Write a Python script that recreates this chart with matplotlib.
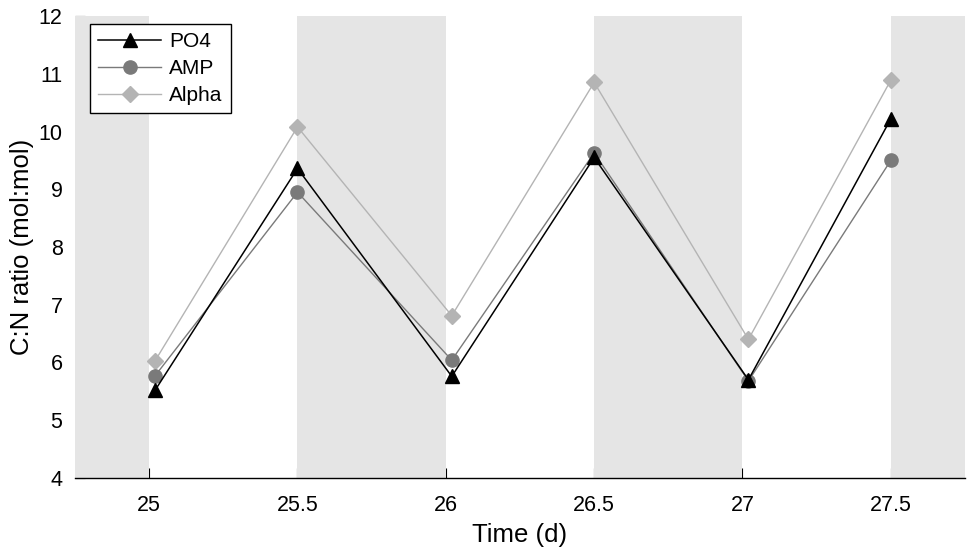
import numpy as np
import matplotlib
matplotlib.use("Agg")
import matplotlib.pyplot as plt

plt.rcParams['font.family'] = ['Liberation Sans', 'DejaVu Sans']

# sampling times (d) and C:N ratios
t = [25.02, 25.5, 26.02, 26.5, 27.02, 27.5]
po4 = [5.52, 9.36, 5.76, 9.55, 5.70, 10.22]
amp = [5.77, 8.95, 6.04, 9.63, 5.68, 9.50]
alpha = [6.03, 10.08, 6.81, 10.85, 6.40, 10.89]

# dark periods (shaded)
dark = [(24.75, 25.0), (25.5, 26.0), (26.5, 27.0), (27.5, 27.75)]
xticks = [25, 25.5, 26, 26.5, 27, 27.5]
xticklabels = ['25', '25.5', '26', '26.5', '27', '27.5']

fig = plt.figure(figsize=(9.74, 5.57), dpi=100)
ax = fig.add_axes([75/974, 79/557, 890/974, 462/557])

for a, b in dark:
    ax.axvspan(a, b, color='#e5e5e5', lw=0, zorder=2.6)

ax.plot(t, po4, color='black', lw=1.1, marker='^', ms=10, mfc='black', mec='black',
        label='PO4', zorder=6)
ax.plot(t, amp, color='#7a7a7a', lw=1.0, marker='o', ms=9.5, mfc='#7a7a7a', mec='#7a7a7a',
        label='AMP', zorder=5)
ax.plot(t, alpha, color='#b4b4b4', lw=1.0, marker='D', ms=8.5, mfc='#b4b4b4', mec='#b4b4b4',
        label='Alpha', zorder=4)

ax.set_xlim(24.75, 27.75)
ax.set_ylim(4, 12)
ax.set_xticks(xticks)
ax.set_xticklabels(xticklabels)
ax.set_yticks(np.arange(4, 13, 1))

for s in ['top', 'right', 'left']:
    ax.spines[s].set_visible(False)
ax.spines['bottom'].set_zorder(7)
ax.spines['bottom'].set_linewidth(1.0)
ax.tick_params(axis='both', direction='in', length=7, width=0.8, labelsize=15.5)
ax.tick_params(axis='x', pad=12)
ax.tick_params(axis='y', pad=9)

ax.set_xlabel('Time (d)', fontsize=18.5, labelpad=5)
ax.set_ylabel('C:N ratio (mol:mol)', fontsize=18.5, labelpad=3)

leg = ax.legend(loc='upper left', bbox_to_anchor=(0.017, 0.983), borderaxespad=0,
                fontsize=15, frameon=True, fancybox=False, edgecolor='black', framealpha=1,
                handlelength=3.0, borderpad=0.4, labelspacing=0.38, handletextpad=0.4)
leg.get_frame().set_linewidth(1.0)
leg.set_zorder(10)

fig.savefig('out.png', dpi=100)
